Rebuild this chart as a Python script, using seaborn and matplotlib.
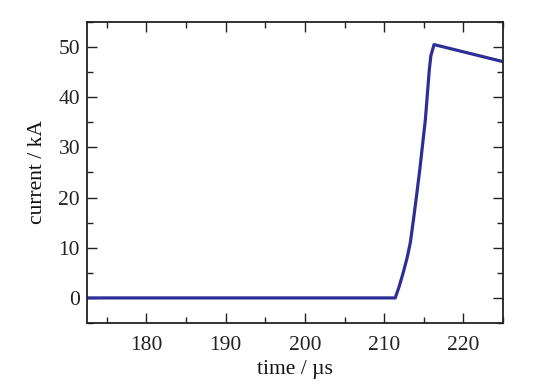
import matplotlib
matplotlib.use("Agg")
import matplotlib.pyplot as plt
from matplotlib.ticker import MultipleLocator
import seaborn as sns
import pandas as pd

time_us = [172.5, 211.4, 211.9, 212.4, 212.9, 213.3, 213.7, 214.1, 214.5, 215.2, 215.7, 215.9, 216.3, 225.0]
current_kA = [0.0, 0.0, 2.3, 5.0, 8.0, 11.0, 15.6, 20.5, 25.6, 35.5, 45.5, 48.3, 50.5, 47.1]

df = pd.DataFrame({"time": time_us, "current": current_kA})

sns.set_theme(style="ticks")
plt.rcParams["font.family"] = ["Liberation Serif", "DejaVu Serif"]

fig = plt.figure(figsize=(5.52, 3.85), dpi=100)
ax = fig.add_axes([87/552, 1 - 323/385, (503-87)/552, (323-22)/385])

sns.lineplot(data=df, x="time", y="current", ax=ax, color="#2d2f96",
             linewidth=2.3, sort=False, estimator=None)

ax.set_xlim(172.5, 225)
ax.set_ylim(-5, 55)
ax.xaxis.set_major_locator(MultipleLocator(10))
ax.xaxis.set_minor_locator(MultipleLocator(5))
ax.yaxis.set_major_locator(MultipleLocator(10))
ax.yaxis.set_minor_locator(MultipleLocator(5))
ax.tick_params(which="both", direction="in", top=True, right=True,
               colors="#222222", labelsize=15.5, width=1.0, pad=5)
ax.tick_params(axis="x", which="major", pad=9)
ax.tick_params(which="major", length=7)
ax.tick_params(which="minor", length=4)
for s in ax.spines.values():
    s.set_linewidth(1.3)
    s.set_color("#222222")
    s.set_visible(True)

ax.set_xlabel("time / µs", fontsize=15.5, color="#111111", labelpad=4)
ax.set_ylabel("current / kA", fontsize=15.5, color="#111111", labelpad=8)

fig.savefig("out.png", dpi=100)
